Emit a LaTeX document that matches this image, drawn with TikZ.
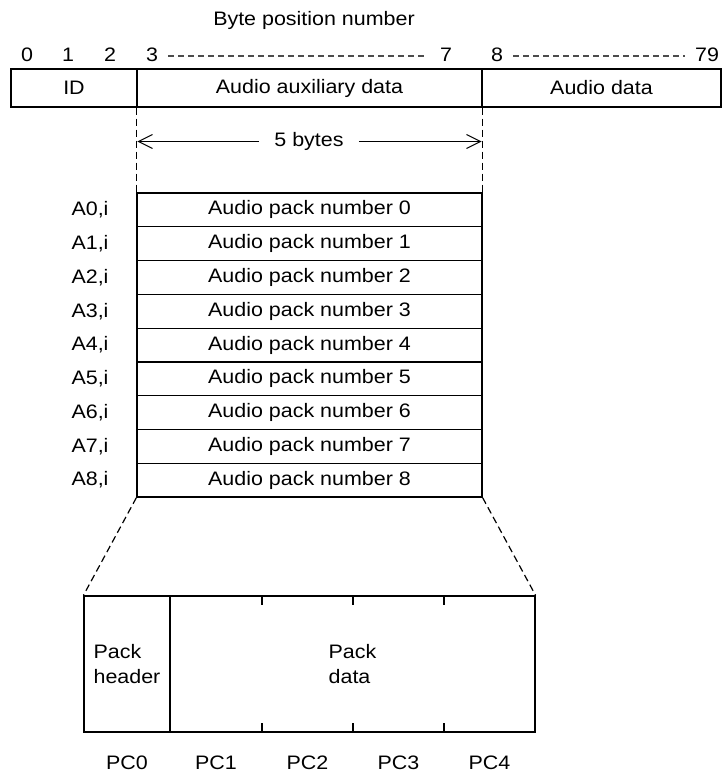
\documentclass[tikz,border=0pt]{standalone}
\usepackage{fontspec}
\setmainfont{Liberation Sans}[FakeStretch=1.1]
\usetikzlibrary{arrows.meta}
\begin{document}
\begin{tikzpicture}[x=1pt,y=-1pt,
  every node/.style={font=\fontsize{19.5}{25}\selectfont, inner sep=0pt},
  cell/.style={draw, line width=1.2pt, minimum height=38pt},
  packrow/.style={draw, line width=1.2pt, minimum width=345pt, minimum height=33.78pt},
  pcell/.style={draw, line width=1.2pt, minimum height=136pt, align=left},
  guide/.style={line width=1.2pt, dash pattern=on 7pt off 4pt},
  numdash/.style={line width=1.2pt, black!70, dash pattern=on 6pt off 4pt},
  tick/.style={line width=1.2pt},
  barb/.style={line width=1pt, -{Straight Barb[length=14pt,width=14pt]}}
]
\useasboundingbox (0,0) rectangle (722,776);

% title and byte positions
\node (title) at (314,20) {Byte position number};
\node (b0) at (27,55) {0};
\node (b1) at (68,55) {1};
\node (b2) at (110,55) {2};
\node (b3) at (152,55) {3};
\node (b7) at (446,55) {7};
\node (b8) at (497,55) {8};
\node (b79) at (707,55) {79};
\draw[numdash] ([xshift=10pt,yshift=-1pt]b3.east) -- ([xshift=-12pt,yshift=-1pt]b7.west);
\draw[numdash] ([xshift=10pt,yshift=-1pt]b8.east) -- ([xshift=-10pt,yshift=-1pt]b79.west);

% top frame
\node[cell, minimum width=126pt] (id) at (74,88) {ID};
\node[cell, minimum width=345pt] (aux) at (309.5,88) {Audio auxiliary data};
\node[cell, minimum width=239pt] (adata) at (601.5,88) {Audio data};

% pack rows
\foreach \k in {0,...,8} {
  \node[packrow] (row\k) at (309.5,{193+33.78*(\k+0.5)}) {Audio pack number \k};
  \node (lab\k) at (90,{193+33.78*(\k+0.5)}) {A\k,i};
}

% dashed guides
\draw[guide] (aux.south west) -- (row0.north west);
\draw[guide] (aux.south east) -- (row0.north east);

% 5 bytes arrow
\coordinate (al) at (137.4,141.5);
\coordinate (ar) at (481.6,141.5);
\node[inner xsep=15pt] (five) at (309,141.5) {5 bytes};
\draw[barb] (five.west) -- (al);
\draw[barb] (five.east) -- (ar);

% bottom pack
\node[pcell, minimum width=86pt] (hdr) at (127,664) {Pack\\header};
\node[pcell, minimum width=365pt] (pdata) at (352.5,664) {Pack\\data};
\foreach \x in {262,353,444} {
  \draw[tick] (\x,596) -- (\x,605);
  \draw[tick] (\x,732) -- (\x,723);
}
\draw[guide] (row8.south west) -- (hdr.north west);
\draw[guide] (row8.south east) -- (pdata.north east);

% PC labels
\node (pc0) at (127,763) {PC0};
\node (pc1) at (216,763) {PC1};
\node (pc2) at (307.5,763) {PC2};
\node (pc3) at (398.5,763) {PC3};
\node (pc4) at (489.5,763) {PC4};
\end{tikzpicture}
\end{document}
